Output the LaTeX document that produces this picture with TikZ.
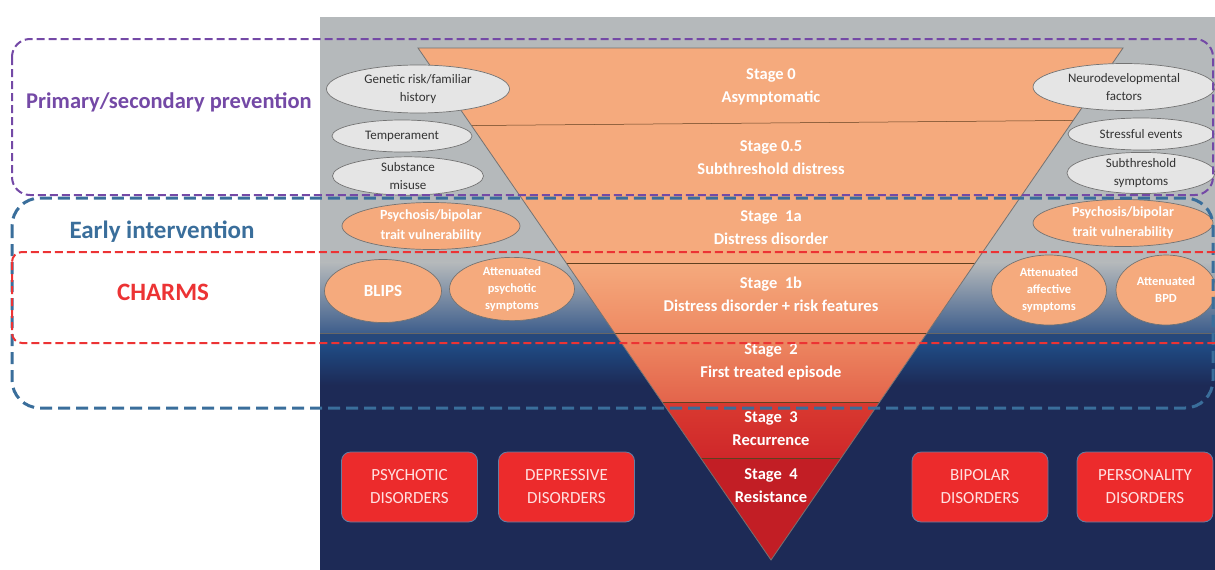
\documentclass[tikz,border=0pt]{standalone}
\usepackage{fontspec}
\setmainfont{Carlito}
\usetikzlibrary{shapes.geometric}

\definecolor{panelgray}{HTML}{B5B9BB}
\definecolor{steel}{HTML}{3E5E8C}
\definecolor{deepblue}{HTML}{27487B}
\definecolor{midblue}{HTML}{1F4B84}
\definecolor{navy}{HTML}{1D2A56}
\definecolor{peach}{HTML}{F5AA7D}
\definecolor{coral}{HTML}{EE8A63}
\definecolor{salmonred}{HTML}{E3644B}
\definecolor{brightred}{HTML}{D93A30}
\definecolor{redthree}{HTML}{CF272A}
\definecolor{darkred}{HTML}{C21E25}
\definecolor{boxred}{HTML}{EC2B2C}
\definecolor{prevpurple}{HTML}{7449A6}
\definecolor{earlyblue}{HTML}{3A6E9B}
\definecolor{charmsred}{HTML}{EC3334}

\tikzset{
  factor/.style={ellipse, draw=black!55, line width=0.7pt, fill=black!10, text=black!80,
    inner sep=0pt, align=center, font=\fontsize{13}{18}\selectfont},
  risk/.style={factor, fill=peach, text=white, font=\fontsize{14}{20}\selectfont\bfseries},
  small risk/.style={font=\fontsize{12.5}{17}\selectfont\bfseries},
  disorder/.style={rectangle, rounded corners=9pt, draw=steel!80!white, line width=0.8pt,
    fill=boxred, text=red!12!white, minimum width=136pt, minimum height=70pt,
    align=center, font=\fontsize{17}{23}\selectfont},
  stagetext/.style={text=white, align=center, font=\fontsize{16.5}{23}\selectfont\bfseries},
  divider/.style={draw=black!50!brown, line width=0.5pt},
  region/.style={line width=2pt, dash pattern=on 8pt off 4pt},
  tag/.style={font=\fontsize{25}{28}\selectfont\bfseries}
}

\begin{document}
\begin{tikzpicture}[x=1pt,y=-1pt]
\useasboundingbox (0,0) rectangle (1215,570);

	% background panel
	\fill[panelgray] (320,17) rectangle (1215,263);
	\shade[top color=panelgray, bottom color=steel] (320,262.5) rectangle (1215,333);
	\fill[deepblue] (320,333) rectangle (1215,345);
	\shade[top color=midblue, bottom color=navy] (320,344.5) rectangle (1215,385);
	\fill[navy] (320,384.5) rectangle (1215,570);
	\draw[divider, draw=black!60] (320,333) -- (1215,333);

	% staging triangle
	\begin{scope}
		\clip (418,48) -- (1123,48) -- (771,560) -- cycle;
		\fill[peach] (418,48) rectangle (1123,263.5);
		\shade[top color=peach, bottom color=coral] (418,263) rectangle (1123,333.5);
		\shade[top color=coral, bottom color=salmonred] (418,333) rectangle (1123,402.5);
		\shade[top color=brightred, bottom color=redthree] (418,402) rectangle (1123,458.5);
		\fill[darkred] (418,458) rectangle (1123,560);
		\foreach \y in {263,333,402,458}
		\draw[divider] (418,\y) -- (1123,\y);
		\draw[divider] (418,126) -- (1123,120);
	\end{scope}
	\draw[black!55, line width=0.8pt] (418,48) -- (1123,48) -- (771,560) -- cycle;

	\foreach \n/\y/\t in {s0/86.5/{Stage 0\\Asymptomatic}, s05/158/{Stage 0.5\\Subthreshold distress},
		s1a/228/{Stage\ \ 1a\\Distress disorder}, s1b/294/{Stage\ \ 1b\\Distress disorder + risk features},
		s2/361.5/{Stage\ \ 2\\First treated episode}, s3/429/{Stage\ \ 3\\Recurrence},
		s4/486/{Stage\ \ 4\\Resistance}}
	\node[stagetext] (\n) at (771,\y) {\t};

	% risk factors
	\node[factor, minimum width=183pt, minimum height=48pt] (genetic) at (418,89) {Genetic risk/familiar\\history};
	\node[factor, minimum width=140pt, minimum height=32pt] (temper) at (402,136) {Temperament};
	\node[factor, minimum width=151pt, minimum height=33pt] (substance) at (408,176) {Substance\\misuse};
	\node[factor, minimum width=182pt, minimum height=47pt] (neuro) at (1124,87) {Neurodevelopmental\\factors};
	\node[factor, minimum width=146pt, minimum height=32pt] (stress) at (1141,134) {Stressful events};
	\node[factor, minimum width=148pt, minimum height=33pt] (subsym) at (1141,173) {Subthreshold\\symptoms};

	\node[risk, minimum width=178pt, minimum height=47pt] (traitleft) at (431,226) {Psychosis/bipolar\\trait vulnerability};
	\node[risk, minimum width=117pt, minimum height=63pt, font=\fontsize{17}{19}\selectfont\bfseries] (blips) at (383,291) {BLIPS};
	\node[risk, small risk, minimum width=125pt, minimum height=62pt] (attpsy) at (512,289) {Attenuated\\psychotic\\symptoms};
	\node[risk, minimum width=180pt, minimum height=47pt] (traitright) at (1123,223) {Psychosis/bipolar\\trait vulnerability};
	\node[risk, small risk, minimum width=115pt, minimum height=70pt] (attaff) at (1049,290) {Attenuated\\affective\\symptoms};
	\node[risk, small risk, minimum width=100pt, minimum height=70pt] (attbpd) at (1166,290) {Attenuated\\BPD};

	% disorders
	\node[disorder] (psychotic) at (409.5,487) {PSYCHOTIC\\DISORDERS};
	\node[disorder] (depressive) at (566.5,487) {DEPRESSIVE\\DISORDERS};
	\node[disorder] (bipolar) at (980,487) {BIPOLAR\\DISORDERS};
	\node[disorder] (personality) at (1145,487) {PERSONALITY\\DISORDERS};

	% intervention regions
	\draw[region, prevpurple, rounded corners=18pt] (12,39) rectangle (1213,195);
	\draw[region, earlyblue, line width=3pt, dash pattern=on 12pt off 6pt, rounded corners=28pt] (12,198) rectangle (1213,408);
	\draw[region, charmsred, rounded corners=10pt] (12,252) rectangle (1230,343);

	\node[tag, text=prevpurple, font=\fontsize{22.5}{26}\selectfont\bfseries] (prevtag) at (169,102) {Primary/secondary prevention};
	\node[tag, text=earlyblue] (earlytag) at (162,232) {Early intervention};
	\node[tag, text=charmsred] (charmstag) at (163,292) {CHARMS};
\end{tikzpicture}
\end{document}
